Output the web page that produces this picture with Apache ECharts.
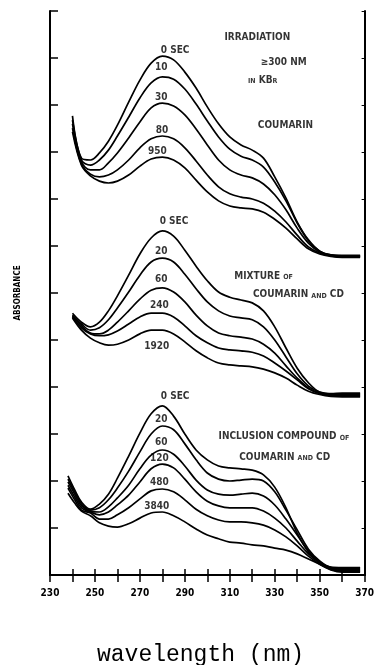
<!DOCTYPE html>
<html>
<head>
<meta charset="utf-8">
<script src="https://cdn.jsdelivr.net/npm/echarts@6/dist/echarts.min.js"></script>
<style>
  html, body { margin: 0; padding: 0; background: #fff; }
  #chart { width: 377px; height: 665px; }
</style>
</head>
<body>
<div id="chart"></div>
<script>
// Absorbance spectra of coumarin under irradiation (>=300 nm, KBr), three stacked panels.
// Vertical values are in arbitrary absorbance units, one tick = 1 unit.

const wavelengthAB = [240,244,248,252,256,260,265,270,275,280,285,290,295,300,305,310,315,320,325,330,335,340,345,350,355,360,368];
const wavelengthC  = [238,241,244,248,252,256,260,265,270,275,280,285,290,295,300,305,310,315,320,325,330,335,340,345,350,355,360,368];

// Coumarin (top panel)
const coumarin0   = [9.77,8.87,8.83,8.98,9.23,9.57,10.06,10.53,10.89,11.04,10.96,10.70,10.36,9.96,9.60,9.32,9.15,9.04,8.87,8.47,8.02,7.51,7.13,6.89,6.81,6.80,6.80];
const coumarin10  = [9.68,8.83,8.72,8.83,9.04,9.34,9.74,10.15,10.47,10.60,10.55,10.34,10.02,9.66,9.32,9.06,8.91,8.83,8.68,8.36,7.96,7.49,7.11,6.89,6.81,6.79,6.79];
const coumarin30  = [9.60,8.79,8.62,8.62,8.77,8.98,9.30,9.64,9.94,10.04,9.98,9.79,9.49,9.15,8.83,8.62,8.51,8.45,8.32,8.09,7.77,7.38,7.06,6.87,6.80,6.78,6.78];
const coumarin80  = [9.51,8.74,8.53,8.47,8.51,8.62,8.83,9.09,9.28,9.34,9.28,9.09,8.81,8.51,8.26,8.11,8.04,8.00,7.91,7.74,7.51,7.23,6.98,6.85,6.79,6.77,6.77];
const coumarin950 = [9.43,8.72,8.49,8.38,8.34,8.38,8.51,8.70,8.85,8.89,8.83,8.66,8.40,8.15,7.96,7.85,7.81,7.79,7.72,7.57,7.38,7.15,6.94,6.83,6.78,6.76,6.76];

// Mixture of coumarin and CD (middle panel)
const mixture0    = [5.57,5.38,5.28,5.38,5.62,5.94,6.38,6.83,7.17,7.32,7.21,6.91,6.57,6.26,6.02,5.91,5.85,5.79,5.62,5.28,4.83,4.40,4.09,3.89,3.86,3.87,3.87];
const mixture20   = [5.53,5.34,5.21,5.26,5.43,5.68,6.02,6.38,6.66,6.74,6.66,6.40,6.09,5.81,5.62,5.51,5.47,5.43,5.28,5.00,4.64,4.28,4.02,3.89,3.85,3.85,3.85];
const mixture60   = [5.51,5.30,5.15,5.13,5.21,5.38,5.62,5.87,6.06,6.11,6.02,5.81,5.53,5.30,5.15,5.09,5.06,5.02,4.91,4.72,4.45,4.19,3.98,3.87,3.83,3.83,3.83];
const mixture240  = [5.49,5.26,5.13,5.09,5.11,5.19,5.34,5.49,5.57,5.57,5.49,5.30,5.09,4.94,4.83,4.79,4.77,4.74,4.66,4.51,4.34,4.15,3.96,3.86,3.82,3.81,3.81];
const mixture1920 = [5.47,5.21,5.04,4.94,4.89,4.91,5.00,5.13,5.21,5.21,5.13,4.96,4.77,4.62,4.51,4.47,4.45,4.43,4.38,4.30,4.19,4.04,3.91,3.84,3.80,3.79,3.79];

// Inclusion compound of coumarin and CD (bottom panel)
const inclusion0    = [2.11,1.81,1.55,1.40,1.51,1.72,2.06,2.53,3.02,3.43,3.60,3.38,3.00,2.66,2.45,2.32,2.28,2.26,2.23,2.13,1.87,1.43,0.89,0.49,0.26,0.17,0.16,0.16];
const inclusion20   = [2.04,1.77,1.51,1.38,1.43,1.60,1.85,2.21,2.62,3.00,3.17,3.09,2.79,2.45,2.17,2.04,2.00,2.02,2.04,2.00,1.77,1.38,0.96,0.55,0.30,0.16,0.14,0.14];
const inclusion60   = [1.98,1.72,1.47,1.36,1.34,1.45,1.64,1.91,2.26,2.55,2.66,2.57,2.32,2.02,1.81,1.72,1.70,1.72,1.74,1.68,1.49,1.19,0.85,0.51,0.28,0.15,0.12,0.12];
const inclusion120  = [1.91,1.66,1.43,1.34,1.28,1.34,1.49,1.70,1.98,2.26,2.36,2.28,2.04,1.77,1.57,1.47,1.43,1.43,1.43,1.36,1.21,1.00,0.72,0.45,0.26,0.13,0.10,0.10];
const inclusion480  = [1.85,1.60,1.38,1.32,1.19,1.19,1.28,1.43,1.62,1.79,1.83,1.77,1.60,1.40,1.26,1.17,1.13,1.13,1.11,1.06,0.96,0.81,0.62,0.40,0.23,0.12,0.08,0.08];
const inclusion3840 = [1.74,1.53,1.36,1.26,1.11,1.04,1.02,1.09,1.21,1.32,1.34,1.26,1.13,0.98,0.85,0.77,0.70,0.68,0.64,0.62,0.57,0.53,0.45,0.34,0.23,0.11,0.06,0.06];

// Irradiation-time labels: [text, wavelength, absorbance]
const timeLabels = [
  ['0 SEC', 279.3, 11.17], ['10', 276.7, 10.79], ['30', 276.7, 10.17], ['80', 277.1, 9.47], ['950', 273.6, 9.02],
  ['0 SEC', 278.8, 7.53], ['20', 276.7, 6.89], ['60', 276.7, 6.28], ['240', 274.5, 5.74], ['1920', 271.9, 4.87],
  ['0 SEC', 279.3, 3.79], ['20', 276.7, 3.32], ['60', 276.7, 2.83], ['120', 274.5, 2.49], ['480', 274.5, 1.98], ['3840', 271.9, 1.47]
];

// Panel notes (small caps marked with {s|...})
const noteLabels = [
  ['IRRADIATION', 307.6, 11.43],
  ['≥300 NM', 323.8, 10.91],
  ['{s|IN} KB{s|R}', 318.1, 10.53],
  ['COUMARIN', 322.5, 9.57],
  ['MIXTURE {s|OF}', 312.0, 6.36],
  ['COUMARIN {s|AND} CD', 320.3, 5.96],
  ['INCLUSION COMPOUND {s|OF}', 305.0, 2.94],
  ['COUMARIN {s|AND} CD', 314.2, 2.51]
];

const xTickLabels = [230, 250, 270, 290, 310, 330, 350, 370];

const LABEL_FONT = "'Liberation Sans Narrow', 'DejaVu Sans Condensed', sans-serif";

const curves = [
  [wavelengthAB, coumarin0], [wavelengthAB, coumarin10], [wavelengthAB, coumarin30], [wavelengthAB, coumarin80], [wavelengthAB, coumarin950],
  [wavelengthAB, mixture0], [wavelengthAB, mixture20], [wavelengthAB, mixture60], [wavelengthAB, mixture240], [wavelengthAB, mixture1920],
  [wavelengthC, inclusion0], [wavelengthC, inclusion20], [wavelengthC, inclusion60], [wavelengthC, inclusion120], [wavelengthC, inclusion480], [wavelengthC, inclusion3840]
];

const lineSeries = curves.map(([xs, ys]) => ({
  type: 'line',
  data: xs.map((x, i) => [x, ys[i]]),
  smooth: 0.35,
  showSymbol: false,
  symbol: 'none',
  lineStyle: { color: '#000', width: 1.7 },
  silent: true,
  z: 3
}));

function textSeries(items, size) {
  return {
    type: 'scatter',
    symbolSize: 0,
    data: items.map(([t, x, y]) => ({ name: t, value: [x, y] })),
    label: {
      show: true,
      position: 'right',
      distance: 0,
      formatter: p => p.name,
      color: '#000',
      fontFamily: LABEL_FONT,
      fontWeight: 'bold',
      fontSize: size,
      verticalAlign: 'middle',
      rich: {
        s: { fontFamily: LABEL_FONT, fontWeight: 'bold', fontSize: size - 3, color: '#000', verticalAlign: 'bottom' }
      }
    },
    silent: true,
    z: 5
  };
}

const chart = echarts.init(document.getElementById('chart'), null, { renderer: 'canvas' });

const axisLineStyle = { color: '#000', width: 2 };

chart.setOption({
  animation: false,
  backgroundColor: '#fff',
  grid: { left: 50, right: 6, top: 11, bottom: 90, containLabel: false },
  xAxis: [
    {
      type: 'value', position: 'bottom', min: 230, max: 370, interval: 10,
      axisLine: { show: true, lineStyle: axisLineStyle },
      axisTick: { show: true, inside: true, length: 6, lineStyle: { color: '#000', width: 1.5 } },
      splitLine: { show: false },
      axisLabel: {
        show: true, margin: 13, color: '#000',
        fontFamily: LABEL_FONT, fontWeight: 'bold', fontSize: 10,
        formatter: v => (xTickLabels.indexOf(v) >= 0 ? String(v) : '')
      }
    },
    {
      type: 'value', position: 'top', min: 230, max: 370, interval: 10,
      axisLine: { show: true, lineStyle: axisLineStyle },
      axisTick: { show: true, inside: true, length: 7, lineStyle: { color: '#000', width: 1.5 } },
      splitLine: { show: false },
      axisLabel: { show: false }
    }
  ],
  yAxis: [
    {
      type: 'value', position: 'left', min: 0, max: 12, interval: 1,
      axisLine: { show: true, lineStyle: axisLineStyle },
      axisTick: { show: true, inside: true, length: 8, lineStyle: { color: '#000', width: 1.5 } },
      splitLine: { show: false },
      axisLabel: { show: false },
      name: 'ABSORBANCE', nameLocation: 'middle', nameRotate: 90, nameGap: 28,
      nameTextStyle: { color: '#000', fontFamily: LABEL_FONT, fontWeight: 'bold', fontSize: 8 }
    },
    {
      type: 'value', position: 'right', min: 0, max: 12, interval: 1,
      axisLine: { show: true, lineStyle: axisLineStyle },
      axisTick: { show: true, inside: true, length: 3, lineStyle: { color: '#000', width: 1 } },
      splitLine: { show: false },
      axisLabel: { show: false }
    }
  ],
  graphic: [
    {
      type: 'text', left: 97, top: 643,
      style: { text: 'wavelength (nm)', fill: '#000', font: "23px 'Liberation Mono', 'DejaVu Sans Mono', monospace" }
    }
  ],
  series: lineSeries.concat([textSeries(timeLabels, 10), textSeries(noteLabels, 10)])
});
</script>
</body>
</html>
